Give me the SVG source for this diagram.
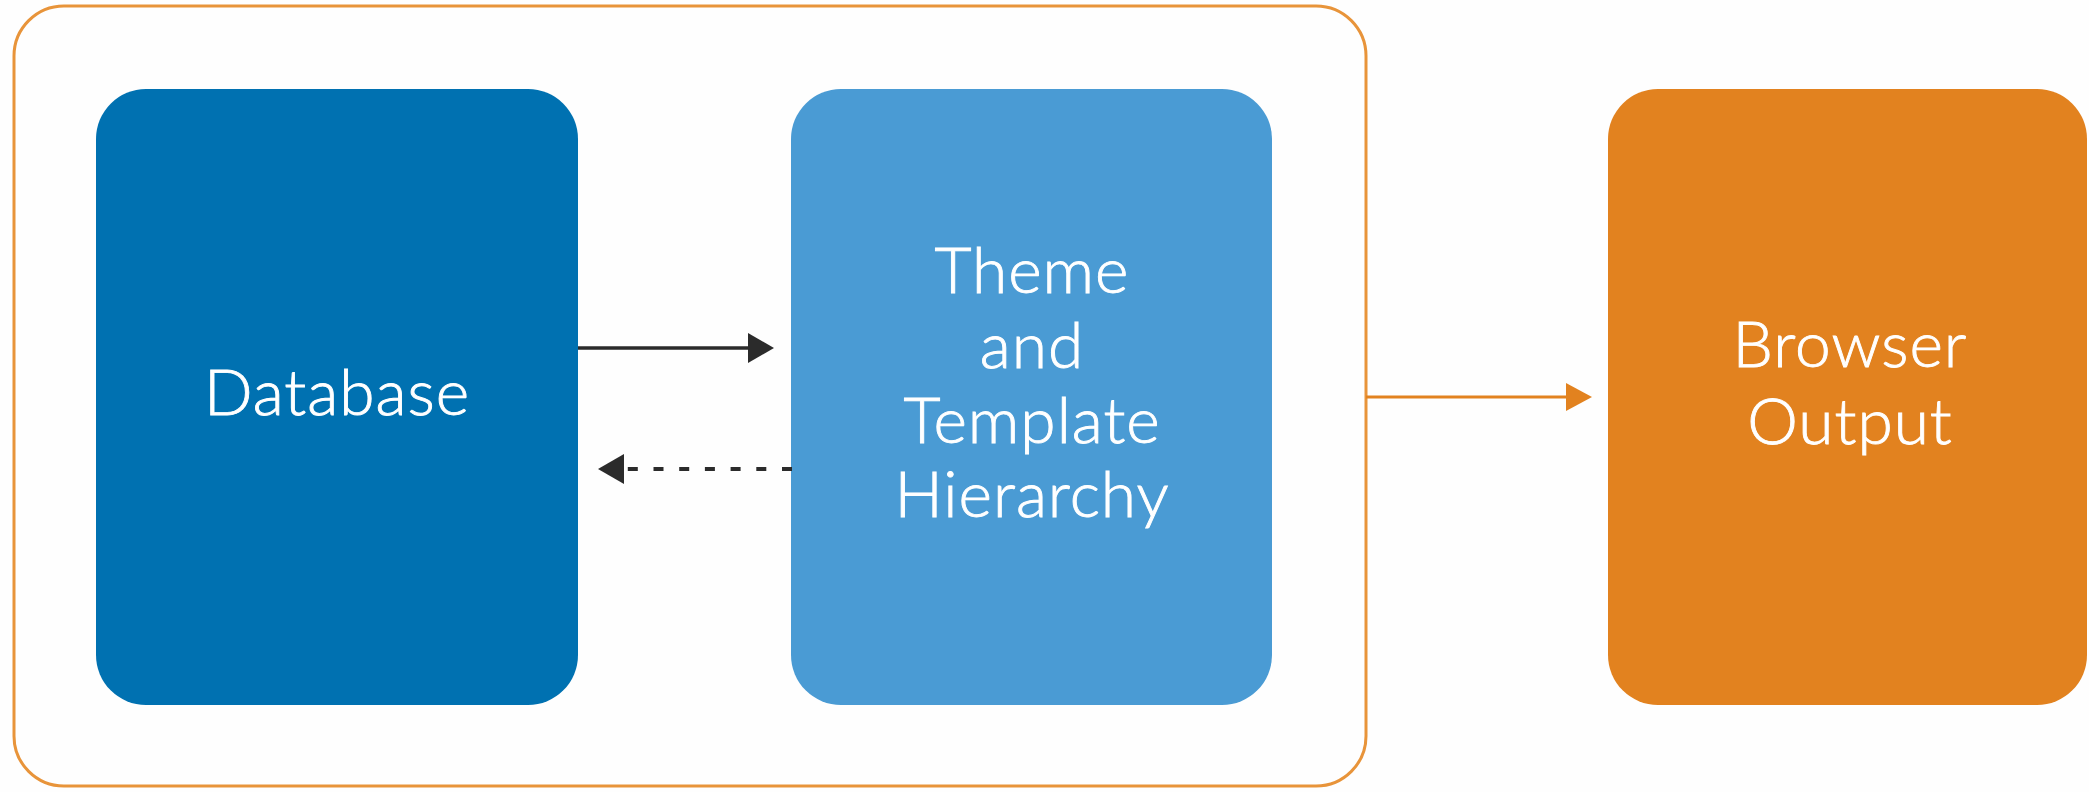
<svg xmlns="http://www.w3.org/2000/svg" width="2089" height="792" viewBox="0 0 2089 792">
<style>
.lbl{font-family:Lato,"Open Sans","DejaVu Sans",sans-serif;font-size:64px;font-weight:300;fill:#ffffff;stroke:#ffffff;stroke-width:0.9px;text-anchor:middle;letter-spacing:1px}
.box{stroke:none}
</style>
<defs>
<marker id="ahBlack" markerUnits="userSpaceOnUse" markerWidth="28" markerHeight="30" refX="0" refY="15" orient="auto">
<path d="M0,0 L26,15 L0,30 Z" fill="#2b2b2b"/>
</marker>
<marker id="ahOrange" markerUnits="userSpaceOnUse" markerWidth="28" markerHeight="30" refX="0" refY="14" orient="auto">
<path d="M0,0 L26,14 L0,28 Z" fill="#e2821f"/>
</marker>
</defs>
<rect width="2089" height="792" fill="#fefefe"/>
<g id="container">
<rect x="14" y="6" width="1352" height="780" rx="50" ry="50" fill="none" stroke="#e8943a" stroke-width="3"/>
</g>
<g id="database">
<rect class="box" x="96" y="89" width="482" height="616" rx="50" ry="50" fill="#0071b1"/>
<text class="lbl" x="337" y="415">Database</text>
</g>
<g id="theme">
<rect class="box" x="791" y="89" width="481" height="616" rx="50" ry="50" fill="#4a9bd4"/>
<text class="lbl" x="1032" y="293">Theme</text>
<text class="lbl" x="1032" y="368">and</text>
<text class="lbl" x="1032" y="443">Template</text>
<text class="lbl" x="1032" y="517">Hierarchy</text>
</g>
<g id="browser">
<rect class="box" x="1608" y="89" width="479" height="616" rx="50" ry="50" fill="#e2821f"/>
<text class="lbl" x="1850" y="367">Browser</text>
<text class="lbl" x="1850" y="444">Output</text>
</g>
<g id="connectors">
<line x1="578" y1="348" x2="748" y2="348" stroke="#2b2b2b" stroke-width="3.5" marker-end="url(#ahBlack)"/>
<line x1="792" y1="469" x2="624" y2="469" stroke="#2b2b2b" stroke-width="4" stroke-dasharray="10 15.7" marker-end="url(#ahBlack)"/>
<line x1="1366" y1="397" x2="1566" y2="397" stroke="#e2821f" stroke-width="3" marker-end="url(#ahOrange)"/>
</g>
</svg>
